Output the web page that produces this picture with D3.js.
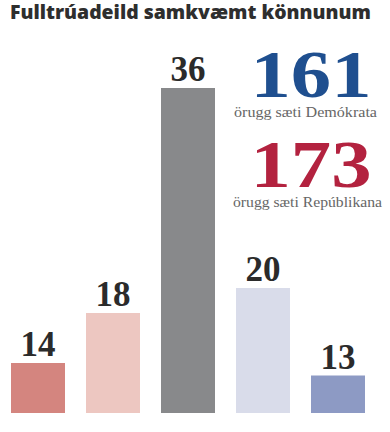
<!DOCTYPE html>
<html>
<head>
<meta charset="utf-8">
<script src="https://cdn.jsdelivr.net/npm/d3@7"></script>
<style>
  body { margin: 0; background: #fff; }
</style>
</head>
<body>
<div id="chart"></div>
<script>
var title = "Fulltrúadeild samkvæmt könnunum";
var categories = ["likR", "hallR", "tossup", "hallD", "likD"];
var values = [14, 18, 36, 20, 13];
var barColors = ["#d4857f", "#edc7c1", "#88898b", "#d9dcea", "#8d9ac4"];
var safeSeats = [161, 173];
var safeLabels = ["örugg sæti Demókrata", "örugg sæti Repúblikana"];
var safeColors = ["#1f4f8f", "#b3223f"];

var width = 390,
    height = 432;

var svg = d3.select("#chart").append("svg")
    .attr("width", width)
    .attr("height", height)

// bars start at 10, not zero
var xScale = d3.scaleBand()
    .domain(categories)
    .range([11, 365])
    .paddingInner(0.28)
    .paddingOuter(0)

var yScale = d3.scaleLinear()
    .domain([10, 36])
    .range([413, 88])

svg.append("text")
    .attr("x", 10)
    .attr("y", 19)
    .attr("font-family", "Open Sans")
    .attr("font-weight", "800")
    .attr("font-size", "19px")
    .attr("fill", "#2e2e2e")
    .attr("textLength", 361)
    .attr("lengthAdjust", "spacingAndGlyphs")
    .text(title)

svg.append("g")
    .selectAll("rect")
    .data(values)
    .enter()
    .append("rect")
    .attr("x", function(d, i) { return xScale(categories[i]) })
    .attr("width", xScale.bandwidth())
    .attr("y", function(d) { return yScale(d) })
    .attr("height", function(d) { return yScale(10) - yScale(d) })
    .attr("fill", function(d, i) { return barColors[i] })

svg.append("g")
    .selectAll("text")
    .data(values)
    .enter()
    .append("text")
    .attr("x", function(d, i) { return xScale(categories[i]) + xScale.bandwidth() / 2 })
    .attr("y", function(d) { return yScale(d) - 7 })
    .attr("text-anchor", "middle")
    .attr("font-family", "Liberation Serif")
    .attr("font-weight", "bold")
    .attr("font-size", "35px")
    .attr("fill", "#2b2b2b")
    .text(function(d) { return d })

//big totals on the right
var tops = [97, 187];
safeSeats.forEach(function(s, i) {
  svg.append("text")
      .attr("x", 311)
      .attr("y", tops[i])
      .attr("text-anchor", "middle")
      .attr("font-family", "Liberation Serif")
      .attr("font-weight", "bold")
      .attr("font-size", "68px")
      .attr("fill", safeColors[i])
      .attr("textLength", 121)
      .attr("lengthAdjust", "spacingAndGlyphs")
      .text(s)
  svg.append("text")
      .attr("x", i == 0 ? 234 : 233)
      .attr("y", tops[i] + 20)
      .attr("font-family", "Liberation Serif")
      .attr("font-size", "15px")
      .attr("fill", "#666")
      .attr("textLength", i == 0 ? 143 : 149)
      .attr("lengthAdjust", "spacingAndGlyphs")
      .text(safeLabels[i])
})
</script>
</body>
</html>
